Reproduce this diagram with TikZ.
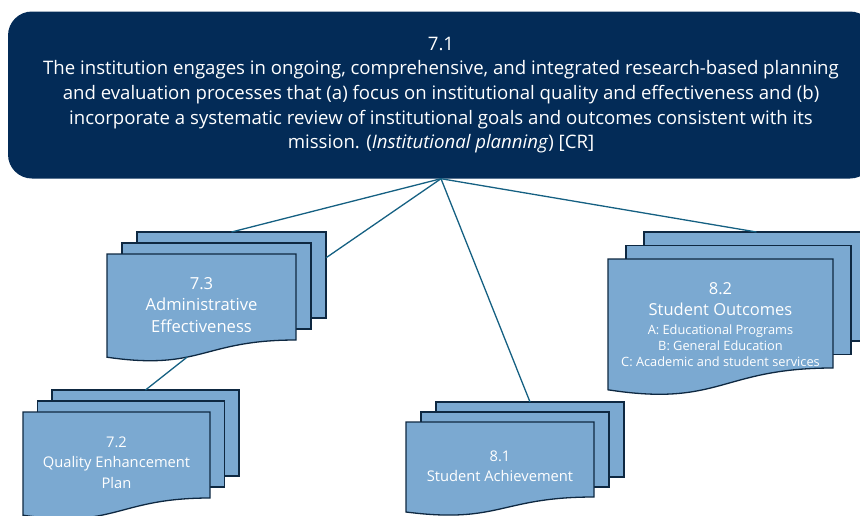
\documentclass[tikz,border=0pt]{standalone}
\usepackage{fontspec}
\setmainfont{Open Sans}
\usepackage{tikz}
\usetikzlibrary{calc}
\usetikzlibrary{positioning}
\definecolor{navy}{HTML}{032B57}
\definecolor{pageblue}{HTML}{7BA9D1}
\definecolor{pageline}{HTML}{0E2841}
\definecolor{linkblue}{HTML}{156082}
\tikzset{
  pics/docstack/.style args = {#1 #2 #3 #4 #5}{
    code = {
      % Back pages
      \foreach \k/\part in {2/back,1/middle}
      {
        \node[page, minimum width = #2pt, minimum height = #3pt,
          anchor = north west] (#1-\part) at ({\k*#4},{-\k*#5}) {};
      }
      % Front page with wavy bottom
      \draw[page]
        (0,0) -- (#2,0) -- (#2,#3)
          .. controls ({.5*#2},#3) and ({.5*#2},{1.36*#3}) .. (0,{1.2*#3})
          coordinate[pos=.6] (#1-foot) -- cycle;
      \node (#1-mid) at ({.5*#2},{.59*#3}) {};
    },
  },
}

\begin{document}
\begin{tikzpicture}[
    x = 1pt, y = -1pt,
    page/.style = {draw = pageline, fill = pageblue, line width = 1.3pt,
      inner sep = 0, outer sep = 0},
    topbox/.style = {fill = navy, rounded corners = 24pt, text = white,
      align = center, inner sep = 0,
      font = \fontsize{18.6}{24.7}\selectfont},
    stacktext/.style = {text = white, align = center, inner sep = 0},
    link/.style = {draw = linkblue, line width = 1.3pt},
  ]
  \useasboundingbox (0,0) rectangle (860,515);

  \node[topbox, minimum width = 866pt, minimum height = 167pt]
    (s71) at (441,95)
    {7.1\\
     The institution engages in ongoing, comprehensive, and integrated research-based planning\\
     and evaluation processes that (a) focus on institutional quality and effectiveness and (b)\\
     incorporate a systematic review of institutional goals and outcomes consistent with its\\
     mission. (\textit{Institutional planning}) [CR]};

  % Stacks of pages
  \pic at (107,254) {docstack={s73 189 86 15 11}};
  \pic at (23,412) {docstack={s72 187 86 14.5 11}};
  \pic at (406,422) {docstack={s81 188 75 15 10}};
  \pic at (608,259) {docstack={s82 225 109 18 13.5}};

  \node[stacktext, font = \fontsize{16.6}{21.5}\selectfont] (t73) at (s73-mid)
    {7.3\\Administrative\\Effectiveness};
  \node[stacktext, font = \fontsize{14.7}{20.3}\selectfont] (t72) at (s72-mid)
    {7.2\\Quality Enhancement\\Plan};
  \node[stacktext, font = \fontsize{14.7}{20}\selectfont] (t81) at (s81-mid)
    {8.1\\Student Achievement};
  \node[stacktext, font = \fontsize{12.8}{16}\selectfont, yshift = -1.5pt]
    (t82) at (s82-mid)
    {{\fontsize{16.5}{16}\selectfont 8.2}\\[5pt]
     {\fontsize{16.5}{16}\selectfont Student Outcomes}\\[3pt]
     A: Educational Programs\\
     B: General Education\\
     C: Academic and student services};

  % Connectors
  \draw[link] (s71.south) -- (s73-back.north);
  \draw[link] (s71.south) -- ($(s73-back.north east)!.3!(s73-back.south east)$);
  \draw[link] (s71.south) -- (s81-back.north);
  \draw[link] (s71.south) -- (s82-back.north);
  \draw[link] (s73-foot) -- (s72-back.north);
\end{tikzpicture}
\end{document}
